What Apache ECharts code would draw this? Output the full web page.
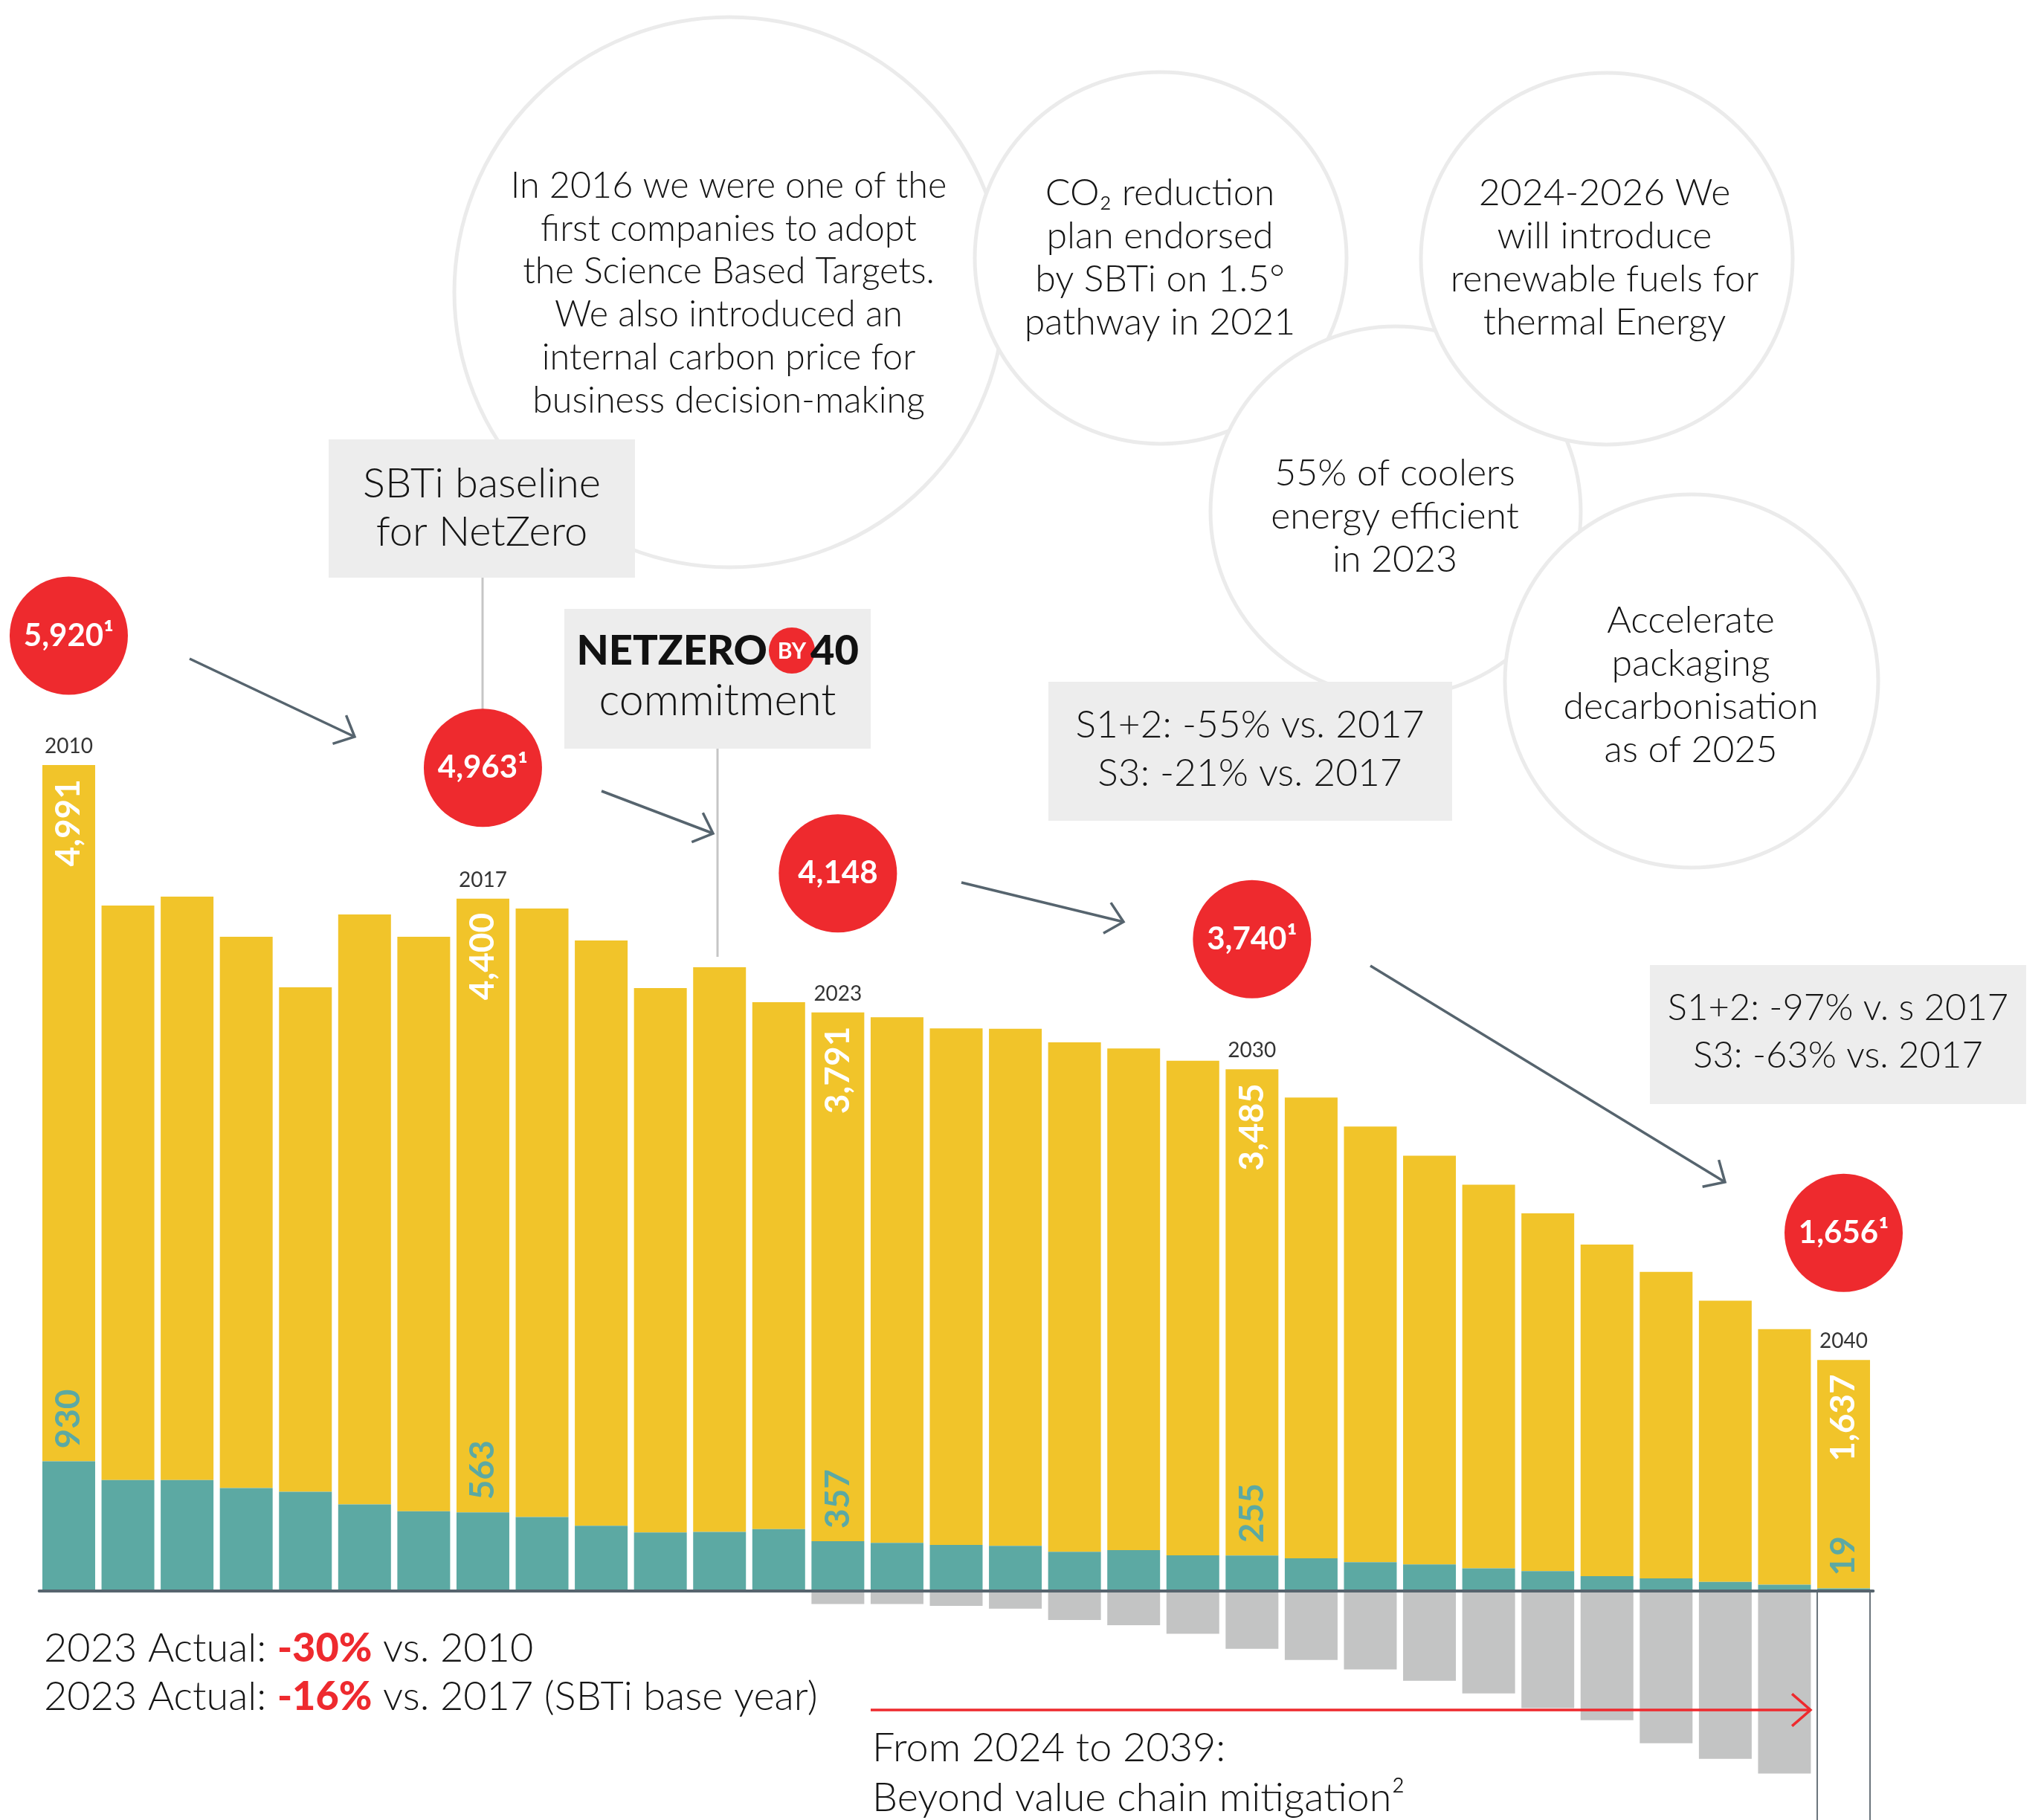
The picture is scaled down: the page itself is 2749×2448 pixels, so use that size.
<!DOCTYPE html>
<html><head><meta charset="utf-8">
<script src="https://cdn.jsdelivr.net/npm/echarts@6/dist/echarts.min.js"></script>
<style>html,body{margin:0;padding:0;background:#fff}#c{width:2749px;height:2448px}</style>
</head><body><div id="c"></div>
<script>
// ---------- DATA ----------
const years = ['2010','2011','2012','2013','2014','2015','2016','2017','2018','2019','2020','2021','2022','2023','2024','2025','2026','2027','2028','2029','2030','2031','2032','2033','2034','2035','2036','2037','2038','2039','2040'];
const scope12 = [930,796,796,738,711,621,572,563,530,467,419,424,444,357,345,330,324,281,293,256,255,235,207,190,162,142,106,90,65,45,19];
const scope3  = [4991,4118,4182,3952,3616,4229,4118,4400,4362,4196,3903,4047,3777,3791,3768,3703,3706,3652,3596,3545,3485,3303,3123,2931,2751,2565,2377,2198,2016,1832,1637];
const mitigation = [null,null,null,null,null,null,null,null,null,null,null,null,null,-94,-94,-107,-126,-208,-245,-307,-414,-494,-563,-643,-734,-840,-926,-1091,-1203,-1309,null];
const outlineYear = '2040';
const outlineDepth = -1700;
const labelledYears = ['2010','2017','2023','2030','2040'];
const bubbleLabels = ['5,920¹','4,963¹','4,148','3,740¹','1,656¹'];

// ---------- STYLE ----------
const YEL = '#f1c42a', TEAL = '#5ca9a3', GREY = '#c3c4c4', RED = '#ee2a2e', SLATE = '#56646e', BOX = '#ededed';
const FONT = 'Lato';
const BAR_W = 71;
const bubbleLift = [-174, -176, -187, -175, -171];   // offset of the red discs above the bar top (px)
const fmt = v => Number(v).toLocaleString('en-US');
const labIdx = labelledYears.map(y => years.indexOf(y));
const totals = years.map((y, i) => scope3[i] + scope12[i]);

const tealData = scope12.map((v, i) => labIdx.includes(i) ? {
  value: v, label: {show: true, position: 'top', distance: 17, rotate: 90, align: 'left', verticalAlign: 'middle',
    color: TEAL, fontFamily: FONT, fontWeight: 'bold', fontSize: 46, formatter: p => fmt(p.value)}
} : v);
const yelData = scope3.map((v, i) => labIdx.includes(i) ? {
  value: v, label: {show: true, position: 'insideTop', distance: 19, rotate: 90, align: 'right', verticalAlign: 'middle',
    color: '#fff', fontFamily: FONT, fontWeight: 'bold', fontSize: 46, formatter: p => fmt(p.value)}
} : v);
const yearLabelData = labIdx.map(i => [i, totals[i]]);
const bubbleData = labIdx.map((i, k) => ({value: [i, totals[i]], symbolOffset: [0, bubbleLift[k]]}));

// ---------- GRAPHIC HELPERS ----------
const G = [];
function circ(cx, cy, r) { G.push({type: 'circle', shape: {cx, cy, r}, style: {fill: '#fff', stroke: '#ebebeb', lineWidth: 5}, z: 1}); }
function rect(x1, y1, x2, y2) { G.push({type: 'rect', shape: {x: x1, y: y1, width: x2 - x1, height: y2 - y1}, style: {fill: BOX}, z: 2}); }
function lines(x, y0, step, arr, size, weight, align) {
  arr.forEach((t, k) => G.push({type: 'text', x, y: y0 + k * step, z: 5,
    style: {text: t, fill: '#151515', fontFamily: FONT, fontSize: size, fontWeight: weight || 300, align: align || 'center', verticalAlign: 'middle'}}));
}
function vline(x, y1, y2) { G.push({type: 'line', shape: {x1: x, y1, x2: x, y2}, style: {stroke: '#c6c6c6', lineWidth: 3}, z: 2}); }
function arrow(x1, y1, x2, y2, color, w, len, angDeg) {
  const a = Math.atan2(y2 - y1, x2 - x1), g = angDeg * Math.PI / 180;
  const p1 = [x2 - len * Math.cos(a - g), y2 - len * Math.sin(a - g)];
  const p2 = [x2 - len * Math.cos(a + g), y2 - len * Math.sin(a + g)];
  G.push({type: 'line', shape: {x1, y1, x2, y2}, style: {stroke: color, lineWidth: w}, z: 6});
  G.push({type: 'polyline', shape: {points: [p1, [x2, y2], p2]}, style: {stroke: color, lineWidth: w, fill: 'none'}, z: 6});
}

// bubbles (later ones on top)
circ(981, 393, 370);
circ(1561, 347, 250);
circ(1877, 688, 249);
circ(2161, 348, 250);
circ(2275, 916, 251);
// boxes
rect(442, 591, 854, 777);
rect(759, 819, 1171, 1007);
rect(1410, 917, 1953, 1104);
rect(2219, 1298, 2725, 1485);
// connectors
vline(649, 777, 955);
vline(965, 1007, 1287);

lines(980, 250, 57.9, ['In 2016 we were one of the', 'first companies to adopt', 'the Science Based Targets.', 'We also introduced an', 'internal carbon price for', 'business decision-making'], 48.5);
lines(1560, 260, 57.8, ['CO₂ reduction', 'plan endorsed', 'by SBTi on 1.5°', 'pathway in 2021'], 50);
lines(2158, 260, 57.8, ['2024-2026 We', 'will introduce', 'renewable fuels for', 'thermal Energy'], 50);
lines(1876, 637, 57.8, ['55% of coolers', 'energy efficient', 'in 2023'], 50);
lines(2274, 835, 57.8, ['Accelerate', 'packaging', 'decarbonisation', 'as of 2025'], 50);
lines(648, 651, 65, ['SBTi baseline', 'for NetZero'], 56);
lines(1681, 975, 65, ['S1+2: -55% vs. 2017', 'S3: -21% vs. 2017'], 51.5);
lines(2472, 1356, 64, ['S1+2: -97% v. s 2017', 'S3: -63% vs. 2017'], 49);

// NETZERO BY 40
G.push({type: 'circle', shape: {cx: 1065, cy: 875, r: 31}, style: {fill: RED}, z: 4});
G.push({type: 'text', x: 1065, y: 876, z: 6, style: {text: 'BY', fill: '#fff', fontFamily: FONT, fontWeight: 'bold', fontSize: 30, align: 'center', verticalAlign: 'middle'}});
G.push({type: 'text', x: 1032, y: 876, z: 5, style: {text: 'NETZERO', fill: '#111', fontFamily: FONT, fontWeight: 900, fontSize: 56, align: 'right', verticalAlign: 'middle'}});
G.push({type: 'text', x: 1090, y: 876, z: 5, style: {text: '40', fill: '#111', fontFamily: FONT, fontWeight: 900, fontSize: 56, align: 'left', verticalAlign: 'middle'}});
lines(965, 943, 0, ['commitment'], 59);

// arrows
arrow(255, 886, 477, 991, SLATE, 3.5, 31, 43);
arrow(809, 1064, 959, 1121, SLATE, 3.5, 31, 43);
arrow(1293, 1187, 1511, 1240, SLATE, 3.5, 31, 43);
arrow(1843, 1299, 2320, 1590, SLATE, 3.5, 31, 43);
arrow(1171, 2300, 2435, 2300, RED, 3.5, 33, 41);

// bottom notes
const rA = {fontSize: 54, fontFamily: FONT, fontWeight: 300, fill: '#151515'};
const rB = {fontSize: 54, fontFamily: FONT, fontWeight: 900, fill: RED};
G.push({type: 'text', x: 59, y: 2218, z: 5, style: {text: '{a|2023 Actual: }{b|-30%}{a| vs. 2010}', rich: {a: rA, b: rB}, align: 'left', verticalAlign: 'middle'}});
G.push({type: 'text', x: 59, y: 2283, z: 5, style: {text: '{a|2023 Actual: }{b|-16%}{a| vs. 2017 (SBTi base year)}', rich: {a: rA, b: rB}, align: 'left', verticalAlign: 'middle'}});
lines(1173, 2352, 67, ['From 2024 to 2039:', 'Beyond value chain mitigation²'], 54, 300, 'left');

// ---------- CHART ----------
const chart = echarts.init(document.getElementById('c'), null, {renderer: 'canvas'});
chart.setOption({
  animation: false,
  backgroundColor: '#fff',
  grid: {left: 52.7, right: 229.7, top: 1014.2, bottom: 0.3, containLabel: false},
  xAxis: {type: 'category', data: years, z: 10,
    axisLine: {show: true, onZero: true, lineStyle: {color: SLATE, width: 4}},
    axisTick: {show: false}, axisLabel: {show: false}, splitLine: {show: false}},
  yAxis: {type: 'value', min: -1640, max: 6000, show: false, splitLine: {show: false}},
  graphic: G,
  series: [
    {name: 'Scope 1+2', type: 'bar', stack: 'a', barWidth: BAR_W, data: tealData, itemStyle: {color: TEAL}, z: 3},
    {name: 'Scope 3', type: 'bar', stack: 'a', barWidth: BAR_W, data: yelData, itemStyle: {color: YEL}, z: 2},
    {name: 'Beyond value chain mitigation', type: 'bar', stack: 'a', barWidth: BAR_W, data: mitigation, itemStyle: {color: GREY}, z: 2},
    {name: '2040 frame', type: 'custom', clip: false, z: 1,
      data: [[years.indexOf(outlineYear), outlineDepth]],
      renderItem: (params, api) => {
        const top = api.coord([api.value(0), 0]);
        const bot = api.coord([api.value(0), api.value(1)]);
        const hw = BAR_W / 2;
        const st = {stroke: '#6b757c', lineWidth: 2, fill: 'none'};
        return {type: 'group', children: [
          {type: 'line', shape: {x1: top[0] - hw, y1: top[1], x2: top[0] - hw, y2: bot[1]}, style: st},
          {type: 'line', shape: {x1: top[0] + hw, y1: top[1], x2: top[0] + hw, y2: bot[1]}, style: st}
        ]};
      }},
    {name: 'years', type: 'scatter', data: yearLabelData, symbolSize: 0, clip: false, z: 5,
      label: {show: true, position: 'top', distance: 11, color: '#000', fontFamily: FONT, fontSize: 28,
        formatter: p => years[p.value[0]]}},
    {name: 'totals', type: 'scatter', data: bubbleData, symbol: 'circle', symbolSize: 159, clip: false, z: 6,
      itemStyle: {color: RED, opacity: 1},
      label: {show: true, position: 'inside', color: '#fff', fontFamily: FONT, fontWeight: 'bold', fontSize: 42,
        formatter: p => bubbleLabels[p.dataIndex]}}
  ]
});
</script></body></html>
